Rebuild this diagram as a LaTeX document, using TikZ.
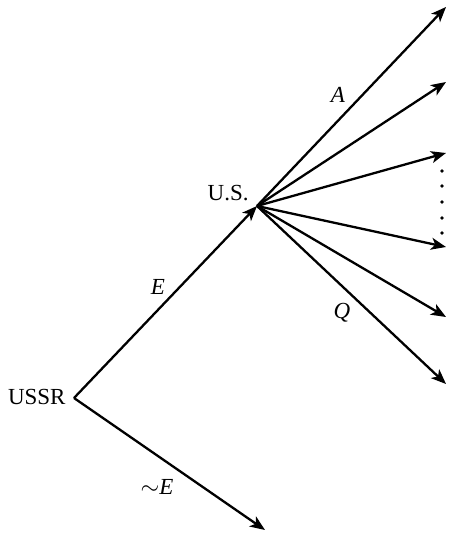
\documentclass[tikz,border=0pt]{standalone}
\usepackage{fontspec}
\setmainfont{Liberation Serif}
\usetikzlibrary{arrows.meta}

\begin{document}
\begin{tikzpicture}[
  x=0.5pt,y=-0.5pt,
  move/.style={-{Stealth[length=7.5pt,width=6pt,inset=2pt]},line width=1.15pt,draw=black},
  player/.style={font=\fontsize{11.5}{13}\selectfont,inner sep=0pt},
  choice/.style={font=\fontsize{11.5}{13}\selectfont\itshape,inner sep=0pt},
]
\useasboundingbox (0,0) rectangle (448,533);

% decision points
\coordinate (ussr) at (74,398);
\coordinate (us) at (257,206);
\node[player,anchor=east] (ussrlab) at (66,397) {USSR};
\node[player,anchor=east] (uslab) at (249,193) {U.S.};

% ends of the moves
\coordinate (noE) at (265,530);
\foreach \i/\y in {1/7,2/82,3/153,4/247,5/317,6/384} {
  \coordinate (r\i) at (446,\y);
}

\draw[move] (ussr) -- (us);
\draw[move] (ussr) -- (noE);
\foreach \i in {1,...,6} {
  \draw[move] (us) -- (r\i);
}

% dots between the middle moves
\foreach \y in {171,186,202,218,233} {
  \fill (442,\y) circle (1.8);
}

\node[choice] (lE) at (158,287) {E};
\node[choice] (lnE) at (157,487) {$\sim$\textit{E}};
\node[choice] (lA) at (338,95) {A};
\node[choice] (lQ) at (342,313) {Q};

\end{tikzpicture}
\end{document}
